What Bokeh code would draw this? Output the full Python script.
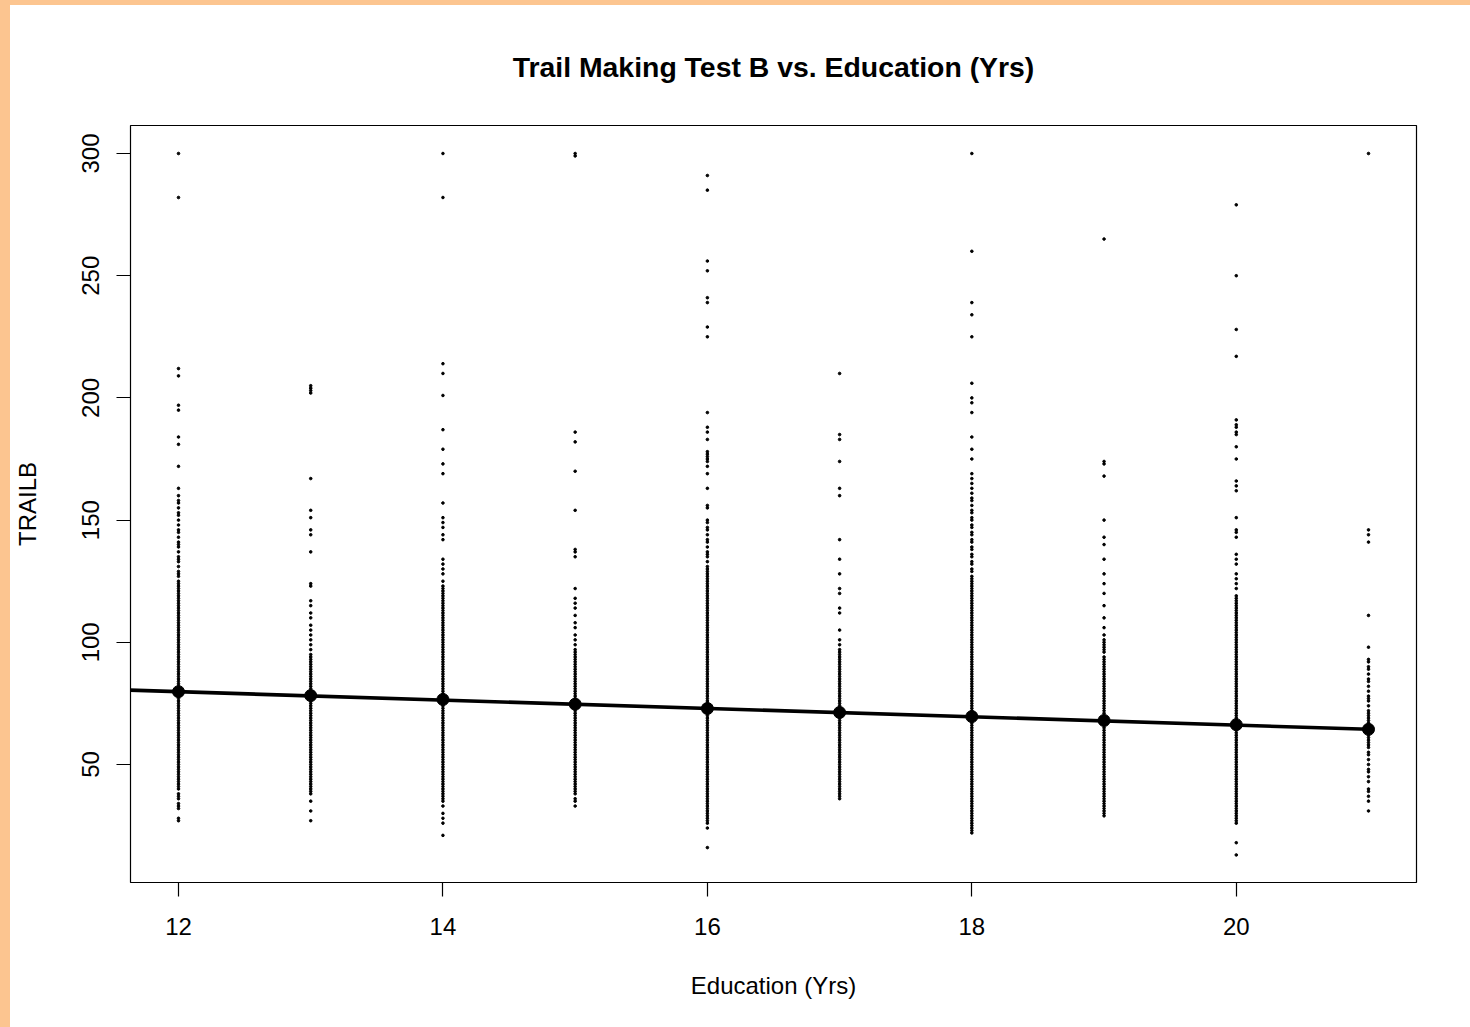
from bokeh.plotting import figure
from bokeh.models import FixedTicker, Div, Range1d, LinearAxis
from bokeh.layouts import row, column
from bokeh.embed import file_html
from bokeh.resources import INLINE

# ---------------- data ----------------
education_levels = [12, 13, 14, 15, 16, 17, 18, 19, 20, 21]

trailb_12 = [300, 282, 212, 209, 197, 195, 184, 181, 172, 163,
             160, 158, 157, 155, 153, 152, 150, 148, 146, 145, 143, 141, 140, 139, 137, 135,
             134, 133, 131, 129, 128, 127, 125, 124, 123, 122, 121, 120, 119, 118, 117, 116,
             115, 114, 113, 112, 111,
             110, 109, 108, 107, 106, 105, 104, 103, 102, 101, 100, 99, 98, 97, 96, 95, 94,
             93, 92, 91, 90, 89, 88, 87, 86, 85, 84, 83, 82, 81, 80, 79, 78, 77, 76, 75, 74,
             73, 72, 71, 70, 69, 68, 67, 66, 65, 64, 63, 62, 61, 60, 59, 58, 57, 56, 55, 54,
             53, 52, 51, 50, 49, 48, 47, 46, 45, 44, 43, 42, 41, 40,
             38, 37, 36, 34, 33, 32, 28, 27]

trailb_13 = [205, 204, 203, 202, 167, 154, 151, 146, 144, 137, 124, 123, 117, 115, 112,
             110, 107, 105, 103, 101, 99, 97, 95, 94, 93, 92, 91, 90, 89, 88,
             87, 86, 85, 84, 83, 82, 81, 80, 79, 78, 77, 76, 75, 74, 73, 72, 71, 70, 69, 68,
             67, 66, 65, 64, 63, 62, 61, 60, 59, 58, 57, 56, 55, 54, 53, 52, 51, 50, 49, 48,
             47, 46, 45, 44, 43, 42, 41, 40, 39, 38,
             35, 31, 27]

trailb_14 = [300, 282, 214, 210, 201, 187, 179, 173, 169, 157, 151, 149, 147, 144, 142,
             134, 132, 130, 128, 125, 123,
             122, 121, 120, 119, 118, 117, 116, 115, 114, 113, 112, 111, 110, 109, 108, 107,
             106, 105, 104, 103, 102, 101, 100, 99, 98, 97, 96, 95, 94, 93, 92, 91, 90, 89,
             88, 87, 86, 85, 84, 83, 82, 81, 80, 79, 78, 77, 76, 75, 74, 73, 72, 71, 70, 69,
             68, 67, 66, 65, 64, 63, 62, 61, 60, 59, 58, 57, 56, 55, 54, 53, 52, 51, 50, 49,
             48, 47, 46, 45, 44, 43, 42, 41, 40, 39, 38, 37, 36, 35,
             33, 30, 28, 26, 21]

trailb_15 = [300, 299, 186, 182, 170, 154, 138, 137, 135, 122, 118, 116, 114, 111, 108,
             106, 103, 101, 99, 97, 96, 95, 94, 93, 92, 91, 90, 89,
             88, 87, 86, 85, 84, 83, 82, 81, 80, 79, 78, 77, 76, 75, 74, 73, 72, 71, 70, 69,
             68, 67, 66, 65, 64, 63, 62, 61, 60, 59, 58, 57, 56, 55, 54, 53, 52, 51, 50, 49,
             48, 47, 46, 45, 44, 43, 42, 41, 40, 39, 38,
             36, 35, 33]

trailb_16 = [291, 285, 256, 252, 241, 239, 229, 225, 194, 188, 186, 183, 178, 177, 176,
             175, 174, 172, 169, 163, 156, 155, 150, 149, 147, 146, 144, 142, 141, 139, 137,
             136, 135, 133, 131, 130,
             129, 128, 127, 126, 125, 124, 123, 122, 121, 120, 119, 118, 117, 116, 115, 114,
             113, 112, 111, 110, 109, 108, 107, 106, 105, 104, 103, 102, 101, 100, 99, 98,
             97, 96, 95, 94, 93, 92, 91, 90, 89, 88, 87, 86, 85, 84, 83, 82, 81, 80, 79, 78,
             77, 76, 75, 74, 73, 72, 71, 70, 69, 68, 67, 66, 65, 64, 63, 62, 61, 60, 59, 58,
             57, 56, 55, 54, 53, 52, 51, 50, 49, 48, 47, 46, 45, 44, 43, 42, 41, 40, 39, 38,
             37, 36, 35, 34, 33, 32, 31, 30, 29, 28, 27, 26,
             24, 16]

trailb_17 = [210, 185, 183, 174, 163, 160, 142, 134, 128, 122, 120, 114, 112, 105, 101,
             99, 97, 96, 95, 94, 93, 92, 91, 90, 89, 88, 87, 86, 85, 84, 83, 82, 81,
             80, 79, 78, 77, 76, 75, 74, 73, 72, 71, 70, 69, 68, 67, 66, 65, 64, 63, 62, 61,
             60, 59, 58, 57, 56, 55, 54, 53, 52, 51, 50, 49, 48, 47, 46, 45, 44, 43, 42, 41,
             40, 39, 38, 37, 36]

trailb_18 = [300, 260, 239, 234, 225, 206, 200, 198, 194, 184, 179, 175, 169, 167, 165,
             163, 161, 159, 158, 156, 154, 153, 151, 150, 148, 147, 145, 144, 142, 141, 139,
             138, 136, 135, 133, 132, 130, 129, 127, 126,
             125, 124, 123, 122, 121, 120, 119, 118, 117, 116, 115, 114, 113, 112, 111, 110,
             109, 108, 107, 106, 105, 104, 103, 102, 101, 100, 99, 98, 97, 96, 95, 94, 93,
             92, 91, 90, 89, 88, 87, 86, 85, 84, 83, 82, 81, 80, 79, 78, 77, 76, 75, 74, 73,
             72, 71, 70, 69, 68, 67, 66, 65, 64, 63, 62, 61, 60, 59, 58, 57, 56, 55, 54, 53,
             52, 51, 50, 49, 48, 47, 46, 45, 44, 43, 42, 41, 40, 39, 38, 37, 36, 35, 34, 33,
             32, 31, 30, 29, 28, 27, 26, 25, 24, 23, 22]

trailb_19 = [265, 174, 173, 168, 150, 143, 140, 134, 128, 124, 120, 115, 110, 106, 103,
             101, 100, 99, 98, 97, 96, 94, 93, 92, 91,
             90, 89, 88, 87, 86, 85, 84, 83, 82, 81, 80, 79, 78, 77, 76, 75, 74, 73, 72, 71,
             70, 69, 68, 67, 66, 65, 64, 63, 62, 61, 60, 59, 58, 57, 56, 55, 54, 53, 52, 51,
             50, 49, 48, 47, 46, 45, 44, 43, 42, 41, 40, 39, 38, 37, 36, 35, 34, 33, 32,
             31, 30, 29]

trailb_20 = [279, 250, 228, 217, 191, 189, 188, 186, 185, 180, 175, 166, 164, 162, 151,
             146, 145, 143, 136, 134, 132, 128, 126, 124, 122, 119,
             118, 117, 116, 115, 114, 113, 112, 111, 110, 109, 108, 107, 106, 105, 104, 103,
             102, 101, 100, 99, 98, 97, 96, 95, 94, 93, 92, 91, 90, 89, 88, 87, 86, 85, 84,
             83, 82, 81, 80, 79, 78, 77, 76, 75, 74, 73, 72, 71, 70, 69, 68, 67, 66, 65, 64,
             63, 62, 61, 60, 59, 58, 57, 56, 55, 54, 53, 52, 51, 50, 49, 48, 47, 46, 45, 44,
             43, 42, 41, 40, 39, 38, 37, 36, 35, 34, 33, 32, 31, 30, 29, 28, 27,
             26, 18, 13]

trailb_21 = [300, 146, 144, 141, 111, 98, 93, 92, 90, 89, 87, 85, 84, 82, 80, 78, 77, 76,
             74, 72, 71, 70, 69, 68, 67, 66, 65, 64, 63, 62, 61, 60, 59, 58, 57, 55, 54, 52,
             50, 48, 47, 45, 43, 40, 39, 37, 35, 31]

trailb_by_education = [trailb_12, trailb_13, trailb_14, trailb_15, trailb_16,
                       trailb_17, trailb_18, trailb_19, trailb_20, trailb_21]

# fitted / mean values at each education level
mean_trailb = [79.8, 78.2, 76.6, 74.7, 72.9, 71.3, 69.6, 68.0, 66.3, 64.4]

# regression line end points
fit_x = [11, 21]
fit_y = [81.5, 64.4]

x_ticks = [12, 14, 16, 18, 20]
y_ticks = [50, 100, 150, 200, 250, 300]

TITLE = "Trail Making Test B vs. Education (Yrs)"
X_LABEL = "Education (Yrs)"
Y_LABEL = "TRAILB"

# ---------------- figure ----------------
FONT = "Liberation Sans"
ORANGE = "#FCC590"

pts_x = []
pts_y = []
for edu, vals in zip(education_levels, trailb_by_education):
    pts_x.extend([edu] * len(vals))
    pts_y.extend(vals)

p = figure(width=1460, height=1022, output_backend="svg", toolbar_location=None,
           x_range=Range1d(11.637, 21.363), y_range=Range1d(1.72, 311.46),
           min_border_left=120, min_border_right=54, min_border_top=120,
           min_border_bottom=145)

p.background_fill_color = "white"
p.border_fill_color = "white"
p.outline_line_color = "black"
p.outline_line_width = 1.2
p.grid.visible = False

xa = p.below[0]
ya = p.left[0]

for ax in (xa, ya):
    ax.axis_line_color = None
    ax.major_tick_line_color = "black"
    ax.major_tick_line_width = 1.2
    ax.major_tick_out = 14
    ax.major_tick_in = 0
    ax.minor_tick_line_color = None
    ax.minor_tick_out = 0
    ax.major_label_text_font = FONT
    ax.major_label_text_font_size = "24px"
    ax.major_label_text_color = "black"
    ax.axis_label_text_font = FONT
    ax.axis_label_text_font_size = "24px"
    ax.axis_label_text_font_style = "normal"
    ax.axis_label_text_color = "black"

xa.ticker = FixedTicker(ticks=x_ticks)
ya.ticker = FixedTicker(ticks=y_ticks)
xa.axis_label = X_LABEL
ya.axis_label = Y_LABEL
xa.major_label_standoff = 21
xa.axis_label_standoff = 34
ya.major_label_orientation = "vertical"
ya.major_label_standoff = 17
ya.axis_label_standoff = 39

# title drawn as the label of a tick-less axis above the frame
title_axis = LinearAxis(ticker=FixedTicker(ticks=[]), axis_line_color=None,
                        major_tick_line_color=None, minor_tick_line_color=None,
                        major_tick_out=0, major_tick_in=0, minor_tick_out=0,
                        axis_label=TITLE, axis_label_standoff=43,
                        axis_label_text_font=FONT, axis_label_text_font_size="28.4px",
                        axis_label_text_font_style="bold", axis_label_text_color="black")
p.add_layout(title_axis, "above")

p.scatter(pts_x, pts_y, size=2.6, color="black", marker="circle")
p.line(fit_x, fit_y, line_width=3.6, color="black")
p.scatter(education_levels, mean_trailb, size=12, color="black", marker="circle")

left_strip = Div(width=10, height=1027, margin=0, styles={"background-color": ORANGE})
top_strip = Div(width=1460, height=5, margin=0, styles={"background-color": ORANGE})
layout = row(left_strip, column(top_strip, p, spacing=0), spacing=0)

open("out.html", "w").write(file_html(layout, INLINE))
